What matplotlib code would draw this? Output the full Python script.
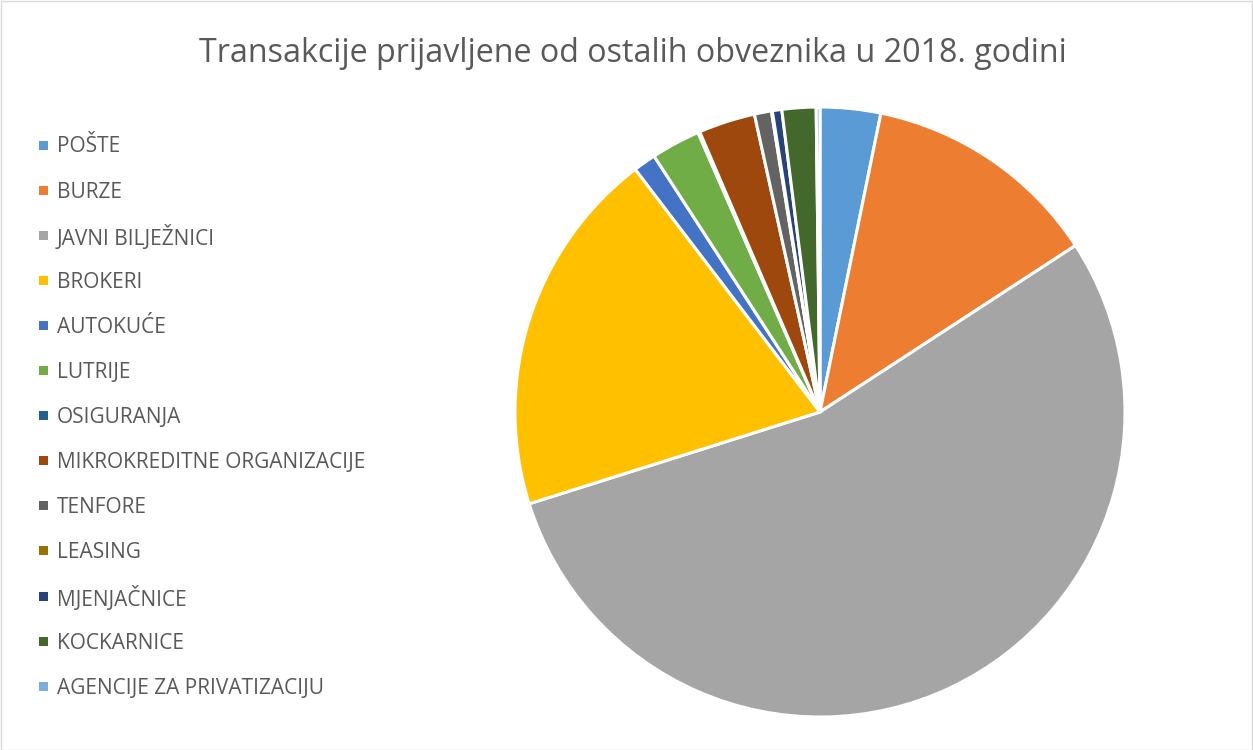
import matplotlib
matplotlib.use("Agg")
import matplotlib.pyplot as plt
from matplotlib.patches import Rectangle

labels = ["POŠTE", "BURZE", "JAVNI BILJEŽNICI", "BROKERI", "AUTOKUĆE", "LUTRIJE",
          "OSIGURANJA", "MIKROKREDITNE ORGANIZACIJE", "TENFORE", "LEASING",
          "MJENJAČNICE", "KOCKARNICE", "AGENCIJE ZA PRIVATIZACIJU"]
shares = [3.2, 12.6, 54.3, 19.5, 1.2, 2.6, 0.1, 3.0, 0.9, 0.05, 0.5, 1.8, 0.2]
colors = ["#5B9BD5", "#ED7D31", "#A5A5A5", "#FFC000", "#4472C4", "#70AD47",
          "#255E91", "#9E480E", "#636363", "#997300", "#264478", "#43682B", "#7CAFDD"]

W, H = 1253, 750
fig = plt.figure(figsize=(W / 100, H / 100), dpi=100)
plt.rcParams['font.family'] = ['Open Sans', 'DejaVu Sans']

# pie: centre (820, 412) px, radius 305 px
cx, cy, r = 820, 412, 305
ax = fig.add_axes([(cx - r) / W, (H - cy - r) / H, 2 * r / W, 2 * r / H])
ax.pie(shares, colors=colors, startangle=90, counterclock=False,
       wedgeprops=dict(edgecolor="white", linewidth=2.2))
ax.set_xlim(-1, 1)
ax.set_ylim(-1, 1)

fig.text(633 / W, 1 - 53 / H, "Transakcije prijavljene od ostalih obveznika u 2018. godini",
         ha="center", va="center", fontsize=23.2, color="#595959")

# legend drawn by hand
for i, (lab, col) in enumerate(zip(labels, colors)):
    y = 145 + i * 45.1
    fig.add_artist(Rectangle((39 / W, 1 - (y + 4.5) / H), 9 / W, 9 / H,
                             transform=fig.transFigure, color=col, lw=0))
    fig.text(57 / W, 1 - (y + 2) / H, lab, ha="left", va="center",
             fontsize=15, color="#595959")

fig.add_artist(Rectangle((0.5 / W, 0.5 / H), 1 - 1.5 / W, 1 - 1.5 / H,
                         transform=fig.transFigure, fill=False,
                         edgecolor="#D9D9D9", lw=1))

fig.savefig("out.png", dpi=100)
